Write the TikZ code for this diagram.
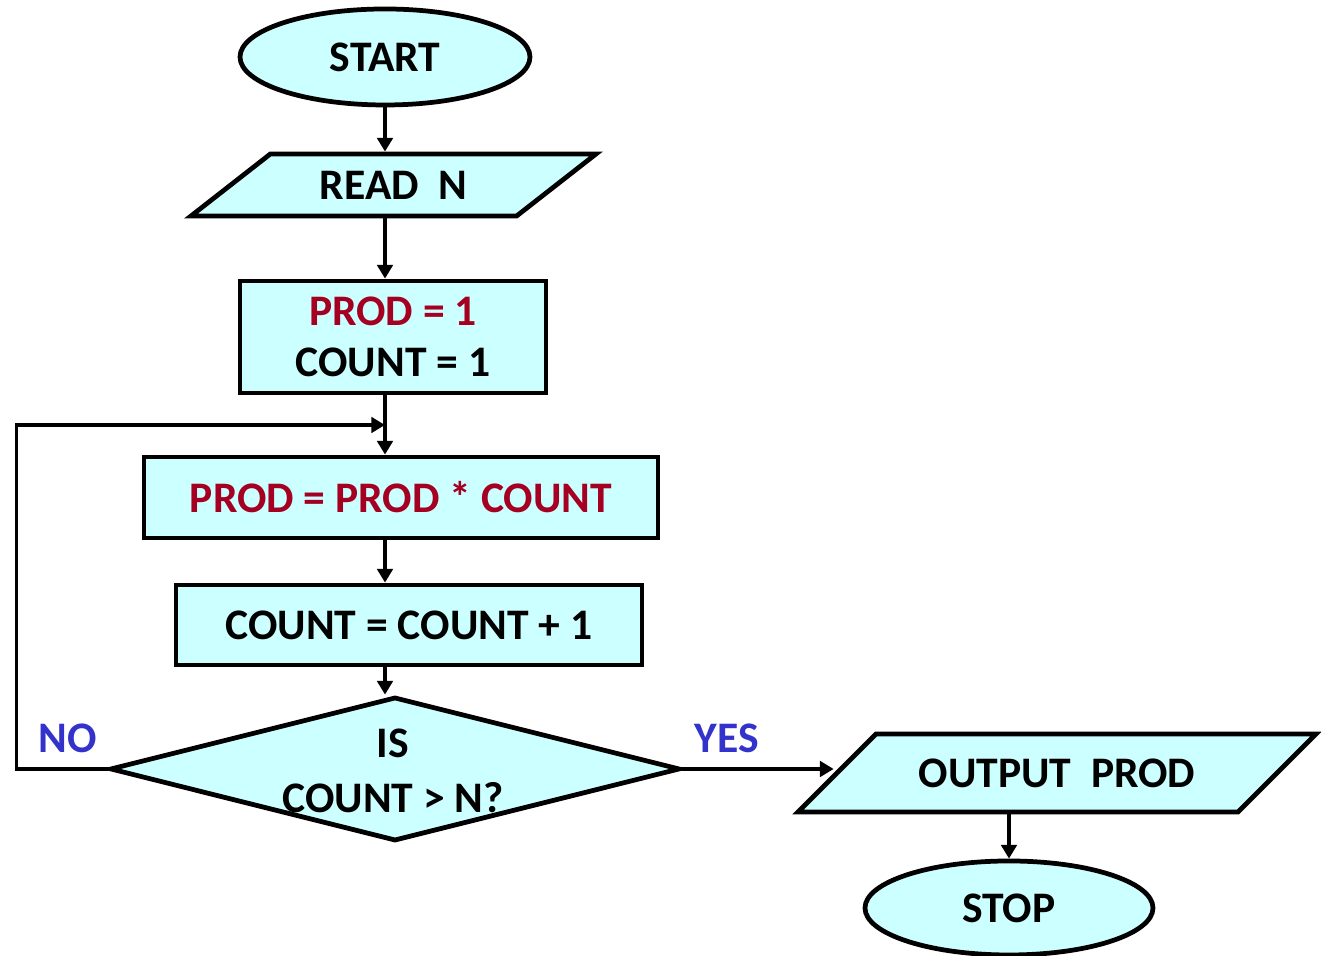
\documentclass[tikz,border=0pt]{standalone}
\usepackage{fontspec}
\setmainfont{Carlito}
\usetikzlibrary{shapes.geometric,arrows.meta}
\definecolor{boxfill}{HTML}{CCFFFF}
\definecolor{varred}{HTML}{A50021}
\definecolor{lblblue}{HTML}{3333CC}

\begin{document}
\begin{tikzpicture}[
    font = \fontsize{12.4}{14.5}\selectfont\bfseries,
    > = {Triangle[length = 3.9pt, width = 4.4pt]},
    block/.style = {draw, line width = 1.35pt, fill = boxfill,
      inner sep = 0pt, align = center},
    term/.style = {block, ellipse, minimum width = 2.9cm, minimum height = 0.96cm},
    % height of the slanted boxes comes from text height + depth
    io/.style = {block, trapezium, trapezium stretches body},
    proc/.style = {block, rectangle},
    decide/.style = {block, diamond, minimum width = 5.7cm, minimum height = 1.44cm},
    txt/.style = {inner sep = 0pt, align = center},
    lbl/.style = {inner sep = 0pt, text = lblblue},
    flow/.style = {draw, line width = 1pt, ->},
    ]

    % fixes the page to the size of the reference
    \useasboundingbox (0, 0) rectangle (13.21, 9.56);

    % the blocks of the chart
    \node[term] (start) at (3.85, 8.99) {START};
    \node[io, trapezium left angle = 38, trapezium right angle = 142,
      text height = 0.46cm, text depth = 0.16cm, minimum width = 4.05cm] (read) at (3.935, 7.71) {READ\ \ N};
    \node[proc, minimum width = 3.06cm, minimum height = 1.12cm] (init) at (3.93, 6.19)
      {\textcolor{varred}{PROD = 1}\\COUNT = 1};
    \node[proc, minimum width = 5.14cm, minimum height = 0.81cm, text = varred] (mult) at (4.01, 4.585)
      {PROD = PROD * COUNT};
    \node[proc, minimum width = 4.66cm, minimum height = 0.80cm] (incr) at (4.09, 3.31)
      {COUNT = COUNT + 1};
    \node[decide] (test) at (3.95, 1.87) {};
    \node[txt] (testtxt) at (3.93, 1.85) {IS\\[1pt]COUNT > N?};
    \node[io, trapezium left angle = 45, trapezium right angle = 135,
      text height = 0.54cm, text depth = 0.24cm, minimum width = 5.18cm] (out) at (10.57, 1.83) {OUTPUT\ \ PROD};
    \node[term, minimum width = 2.88cm, minimum height = 0.94cm] (stop) at (10.09, 0.48) {STOP};

    % branch labels
    \node[lbl] (no) at (0.68, 2.18) {NO};
    \node[lbl] (yes) at (7.27, 2.18) {YES};

    % main line, all on the x of start
    \draw[flow] (start) -- (start |- read.north);
    \draw[flow] (start |- read.south) -- (start |- init.north);
    \draw[flow] (start |- init.south) -- (start |- mult.north);
    \draw[flow] (start |- mult.south) -- (start |- incr.north);
    \draw[flow] (start |- incr.south) -- (start |- test.north);

    % loop back when the test fails
    \coordinate (join) at (start |- 0, 5.31);
    \draw[flow] (test.west) -- ++(-0.91, 0) |- (join);

    % exit when the test holds
    \draw[flow] (test.east) -- (test.east -| out.west);
    \draw[flow] (stop |- out.south) -- (stop);
\end{tikzpicture}
\end{document}
